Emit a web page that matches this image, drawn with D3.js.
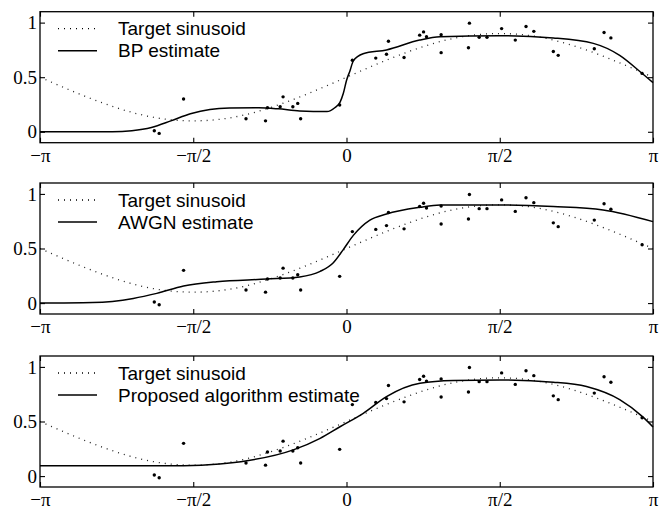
<!DOCTYPE html>
<html>
<head>
<meta charset="utf-8">
<script src="https://cdn.jsdelivr.net/npm/d3@7"></script>
<style>
  body { margin: 0; background: #fff; }
  svg { display: block; }
</style>
</head>
<body>
<div id="chart"></div>
<script>
// x ticks (radians) and their labels
const xTickValues = [-Math.PI, -Math.PI / 2, 0, Math.PI / 2, Math.PI]
const xTickLabels = ['\u2212\u03c0', '\u2212\u03c0/2', '0', '\u03c0/2', '\u03c0']
const yTickValues = [0, 0.5, 1]
const yTickLabels = ['0', '0.5', '1']

// target sinusoid, read every pi/8
const targetX = [-3.1416, -2.7489, -2.3562, -1.9635, -1.5708, -1.1781, -0.7854, -0.3927, 0,
                 0.3927, 0.7854, 1.1781, 1.5708, 1.9635, 2.3562, 2.7489, 3.1416]
const targetY = [0.5, 0.35, 0.22, 0.13, 0.10, 0.13, 0.22, 0.35, 0.5,
                 0.65, 0.78, 0.87, 0.9, 0.87, 0.78, 0.65, 0.5]

// noisy samples (same in all three panels)
const sampleX = [-1.97, -1.92, -1.67, -1.03, -0.83, -0.81, -0.68, -0.65, -0.55, -0.50, -0.47,
                 -0.07, 0.06, 0.30, 0.41, 0.43, 0.59, 0.75, 0.79, 0.82, 0.97, 0.97, 1.26, 1.25,
                 1.36, 1.44, 1.59, 1.73, 1.84, 1.92, 2.12, 2.17, 2.54, 2.64, 2.71, 3.03]
const sampleY = [0.01, -0.015, 0.30, 0.12, 0.10, 0.22, 0.23, 0.32, 0.23, 0.26, 0.12,
                 0.245, 0.655, 0.675, 0.71, 0.83, 0.68, 0.885, 0.915, 0.87, 0.89, 0.725, 0.995, 0.77,
                 0.865, 0.865, 0.945, 0.84, 0.965, 0.92, 0.735, 0.70, 0.76, 0.91, 0.86, 0.535]

// BP estimate
const bpX = [-3.1416, -2.4, -2.2, -2.0, -1.8, -1.6, -1.4, -1.2, -0.9, -0.7, -0.48, -0.2, -0.12, -0.067,
             -0.033, 0.0, 0.036, 0.07, 0.17, 0.41, 0.75, 0.96, 1.57, 2.12, 2.53, 2.80, 3.01, 3.1416]
const bpY = [0, 0, 0.01, 0.04, 0.10, 0.165, 0.205, 0.218, 0.22, 0.21, 0.19, 0.185, 0.22, 0.27,
             0.35, 0.47, 0.56, 0.65, 0.715, 0.75, 0.84, 0.87, 0.88, 0.86, 0.81, 0.70, 0.55, 0.45]

// AWGN estimate
const awgnX = [-3.1416, -2.6, -2.185, -1.945, -1.67, -1.33, -0.82, -0.48, -0.27, -0.135, -0.033,
               0.07, 0.24, 0.41, 0.75, 0.96, 1.57, 2.12, 2.63, 3.1416]
const awgnY = [0, 0.005, 0.043, 0.089, 0.156, 0.196, 0.22, 0.24, 0.29, 0.37, 0.49,
               0.62, 0.76, 0.816, 0.877, 0.899, 0.899, 0.884, 0.853, 0.746]

// proposed algorithm estimate
const propX = [-3.1416, -1.67, -1.3, -1.02, -0.545, -0.27, -0.067, 0.172, 0.41, 0.753, 1.095,
               1.573, 2.12, 2.46, 2.80, 3.04, 3.1416]
const propY = [0.095, 0.095, 0.11, 0.14, 0.24, 0.346, 0.452, 0.575, 0.728, 0.85, 0.875,
               0.88, 0.86, 0.82, 0.70, 0.54, 0.45]

const targetName = 'Target sinusoid'
const estimateNames = ['BP estimate', 'AWGN estimate', 'Proposed algorithm estimate']
const estimateX = [bpX, awgnX, propX]
const estimateY = [bpY, awgnY, propY]

// layout
const W = 661, H = 510
const left = 40, right = 653
const panelTops = [11.7, 183, 356]
const panelH = 131

const svg = d3.select('#chart').append('svg')
  .attr('width', W)
  .attr('height', H)

const x = d3.scaleLinear().domain([-Math.PI, Math.PI]).range([left, right])

estimateNames.forEach((name, p) => {
  const top = panelTops[p]
  const y = d3.scaleLinear().domain([-0.1, 1.1]).range([top + panelH, top])

  const g = svg.append('g')

  const line = d3.line()
    .x(d => x(d[0]))
    .y(d => y(d[1]))

  // target sinusoid, dotted
  g.append('path')
    .datum(d3.zip(targetX, targetY))
    .attr('d', line.curve(d3.curveNatural))
    .attr('fill', 'none')
    .attr('stroke', '#222')
    .attr('stroke-width', 1.3)
    .attr('stroke-dasharray', '1,5')

  // estimate, solid
  g.append('path')
    .datum(d3.zip(estimateX[p], estimateY[p]))
    .attr('d', line.curve(d3.curveMonotoneX))
    .attr('fill', 'none')
    .attr('stroke', '#000')
    .attr('stroke-width', 1.5)

  // noisy samples
  g.selectAll('.pt')
    .data(d3.zip(sampleX, sampleY))
    .enter().append('circle')
      .attr('class', 'pt')
      .attr('cx', d => x(d[0]))
      .attr('cy', d => y(d[1]))
      .attr('r', 1.7)
      .attr('fill', '#000')

  // axes with inward ticks
  const fmtX = d => xTickLabels[xTickValues.indexOf(d)]
  const fmtY = d => yTickLabels[yTickValues.indexOf(d)]

  const axes = [
    g.append('g').attr('transform', 'translate(0,' + (top + panelH) + ')')
      .call(d3.axisBottom(x).tickValues(xTickValues).tickSizeInner(-5).tickSizeOuter(0).tickPadding(6).tickFormat(fmtX)),
    g.append('g').attr('transform', 'translate(0,' + top + ')')
      .call(d3.axisTop(x).tickValues(xTickValues).tickSizeInner(-5).tickSizeOuter(0).tickFormat('')),
    g.append('g').attr('transform', 'translate(' + left + ',0)')
      .call(d3.axisLeft(y).tickValues(yTickValues).tickSizeInner(-5).tickSizeOuter(0).tickPadding(3).tickFormat(fmtY)),
    g.append('g').attr('transform', 'translate(' + right + ',0)')
      .call(d3.axisRight(y).tickValues(yTickValues).tickSizeInner(-5).tickSizeOuter(0).tickFormat(''))
  ]
  axes.forEach(a => {
    a.select('.domain').remove()
    a.selectAll('line').attr('stroke', '#000').attr('stroke-width', 1.1)
    a.selectAll('text')
      .style('font-family', '"Liberation Serif", "Times New Roman", serif')
      .style('font-size', '19px')
      .attr('fill', '#000')
  })

  // frame
  g.append('rect')
    .attr('x', left)
    .attr('y', top)
    .attr('width', right - left)
    .attr('height', panelH)
    .attr('fill', 'none')
    .attr('stroke', '#000')
    .attr('stroke-width', 1.3)

  // legend
  const legend = g.append('g')
    .style('font-family', '"Liberation Sans", Arial, sans-serif')
    .style('font-size', '19px')
  const rows = [[targetName, '1,5', 1.3], [name, null, 1.5]]
  rows.forEach((r, i) => {
    const ly = top + 17 + i * 22
    legend.append('line')
      .attr('x1', 58).attr('x2', 97)
      .attr('y1', ly).attr('y2', ly)
      .attr('stroke', '#000')
      .attr('stroke-width', r[2])
      .attr('stroke-dasharray', r[1])
    legend.append('text')
      .attr('x', 118)
      .attr('y', ly)
      .attr('dy', '0.35em')
      .attr('fill', '#000')
      .text(r[0])
  })
})
</script>
</body>
</html>
